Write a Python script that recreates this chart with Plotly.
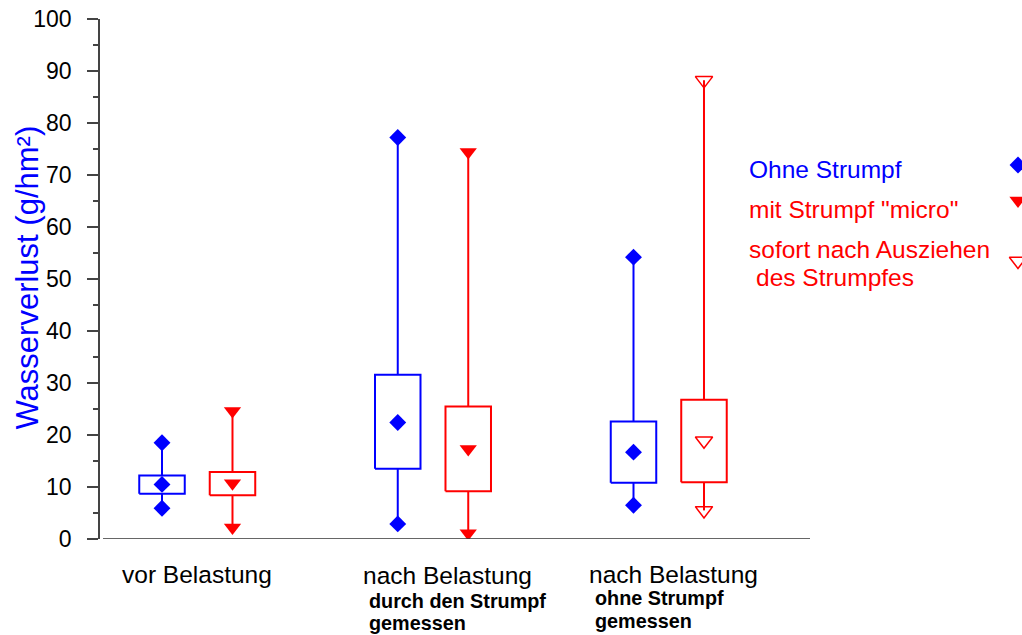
import plotly.graph_objects as go

# ---- data -------------------------------------------------------------
group_pos = [1, 2, 3]
group_titles = ["vor Belastung", "nach Belastung", "nach Belastung"]
group_notes_1 = ["", "durch den Strumpf", "ohne Strumpf"]
group_notes_2 = ["", "gemessen", "gemessen"]

# Ohne Strumpf (blue)
ohne_max = [18.5, 77.2, 54.2]
ohne_q3 = [12.2, 31.6, 22.6]
ohne_median = [10.5, 22.4, 16.7]
ohne_q1 = [8.7, 13.5, 10.8]
ohne_min = [5.9, 2.9, 6.5]

# mit Strumpf "micro" / sofort nach Ausziehen des Strumpfes (red)
mit_max = [24.6, 74.4, 88.2]
mit_q3 = [12.9, 25.5, 26.8]
mit_median = [10.7, 17.3, 18.9]
mit_q1 = [8.4, 9.2, 10.9]
mit_min = [2.2, 1.1, 5.5]
mit_symbols = ["triangle-down", "triangle-down", "triangle-down-open"]

legend_labels = ["Ohne Strumpf", 'mit Strumpf "micro"', "sofort nach Ausziehen", "des Strumpfes"]
legend_colors = ["#0000FF", "#FF0000", "#FF0000", "#FF0000"]
legend_symbols = ["diamond", "triangle-down", "triangle-down-open"]

y_ticks = list(range(0, 101, 10))

# ---- geometry ---------------------------------------------------------
W, H = 1022, 635
PL, PR, PT, PB = 100, 1022, 19, 539         # plot area in pixels
AXIS_END = 810                              # right end of the x axis line
PX_PER_GROUP = 235.75
X0 = 0.5875
X_RANGE = [X0, X0 + (PR - PL) / PX_PER_GROUP]
PAIR_OFFSET = 0.1495
BOX_HALF = 0.0965
FONT = "Liberation Sans, Arial, sans-serif"
BLUE, RED = "#0000FF", "#FF0000"
LABEL_SIZE = 24.5
NOTE_SIZE = 19.8


def paper_x(p):
    return (p - PL) / (PR - PL)


def paper_y(p):
    return (PB - p) / (PB - PT)


def data_x(p):
    return X0 + (p - PL) / PX_PER_GROUP


def data_y(p):
    return (PB - p) / (PB - PT) * 100


fig = go.Figure()


def add_series(xs, vmax, q3, med, q1, vmin, color, symbols):
    # whiskers
    wx, wy = [], []
    for x, a, b, c, d in zip(xs, vmax, q3, q1, vmin):
        wx += [x, x, None, x, x, None]
        wy += [a, b, None, c, d, None]
    fig.add_trace(go.Scatter(x=wx, y=wy, mode="lines",
                             line=dict(color=color, width=2),
                             hoverinfo="skip", showlegend=False))
    # boxes
    for x, lo, hi in zip(xs, q1, q3):
        fig.add_trace(go.Scatter(
            x=[x - BOX_HALF, x + BOX_HALF, x + BOX_HALF, x - BOX_HALF, x - BOX_HALF],
            y=[lo, lo, hi, hi, lo], mode="lines", fill="toself",
            fillcolor="white", line=dict(color=color, width=2),
            hoverinfo="skip", showlegend=False))
    # max / median / min markers
    for x, a, m, d, sym in zip(xs, vmax, med, vmin, symbols):
        size = 13 if sym.startswith("diamond") else 15
        fig.add_trace(go.Scatter(
            x=[x, x, x], y=[a, m, d], mode="markers",
            marker=dict(symbol=sym, size=size, color=color,
                        line=dict(width=1.5 if sym.endswith("open") else 0, color=color)),
            showlegend=False))


add_series([g - PAIR_OFFSET for g in group_pos], ohne_max, ohne_q3, ohne_median,
           ohne_q1, ohne_min, BLUE, ["diamond"] * 3)
add_series([g + PAIR_OFFSET for g in group_pos], mit_max, mit_q3, mit_median,
           mit_q1, mit_min, RED, mit_symbols)

# legend symbols at the right edge
leg_sym_y = [165, 200.4, 261]
for sym, col, yp in zip(legend_symbols, legend_colors, leg_sym_y):
    size = 13 if sym == "diamond" else 15
    fig.add_trace(go.Scatter(
        x=[data_x(1018)], y=[data_y(yp)], mode="markers", cliponaxis=False,
        marker=dict(symbol=sym, size=size, color=col,
                    line=dict(width=1.5 if sym.endswith("open") else 0, color=col)),
        showlegend=False, hoverinfo="skip"))

annotations = []


def note(text, xp, yp, size, color="black", bold=False, anchor="left", angle=0):
    annotations.append(dict(
        text=f"<b>{text}</b>" if bold else text,
        x=paper_x(xp), y=paper_y(yp), xref="paper", yref="paper",
        xanchor=anchor, yanchor="middle", showarrow=False, textangle=angle,
        font=dict(family=FONT, size=size, color=color)))


# category labels
note(group_titles[0], 196.7, 574.2, LABEL_SIZE, anchor="center")
note(group_titles[1], 361, 575.9, LABEL_SIZE)
note(group_notes_1[1], 367, 600.5, NOTE_SIZE, bold=True)
note(group_notes_2[1], 367, 622.8, NOTE_SIZE, bold=True)
note(group_titles[2], 587, 574, LABEL_SIZE)
note(group_notes_1[2], 593, 598.3, NOTE_SIZE, bold=True)
note(group_notes_2[2], 593, 621, NOTE_SIZE, bold=True)

# legend text
note(legend_labels[0], 747, 170, LABEL_SIZE, color=legend_colors[0])
note(legend_labels[1], 747, 209.5, LABEL_SIZE, color=legend_colors[1])
note(legend_labels[2], 747, 249.5, LABEL_SIZE, color=legend_colors[2])
note(legend_labels[3], 754, 277.5, LABEL_SIZE, color=legend_colors[3])

# y axis title
note("Wasserverlust (g/hm²)", 27, 277.5, 31, color=BLUE, anchor="center", angle=-90)

fig.update_layout(
    width=W, height=H,
    margin=dict(l=PL, r=W - PR, t=PT, b=H - PB, pad=0, autoexpand=False),
    paper_bgcolor="white", plot_bgcolor="white",
    font=dict(family=FONT, size=23, color="black"),
    annotations=annotations,
    shapes=[dict(type="line", xref="paper", yref="y",
                 x0=paper_x(103), x1=paper_x(AXIS_END), y0=0, y1=0,
                 line=dict(color="#333333", width=1.5))],
    xaxis=dict(range=X_RANGE, visible=False, fixedrange=True, automargin=False),
    yaxis=dict(range=[0, 100], tickvals=y_ticks, ticks="outside", ticklen=11,
               tickwidth=1.5, tickcolor="#444444", showline=True,
               linecolor="#444444", linewidth=1.5, showgrid=False,
               zeroline=False, ticklabelstandoff=11, automargin=False,
               tickfont=dict(family=FONT, size=23, color="black"),
               minor=dict(dtick=5, ticks="outside", ticklen=5,
                          tickcolor="#444444", tickwidth=1.5, showgrid=False),
               fixedrange=True),
    showlegend=False,
)

fig.write_html("out.html")
